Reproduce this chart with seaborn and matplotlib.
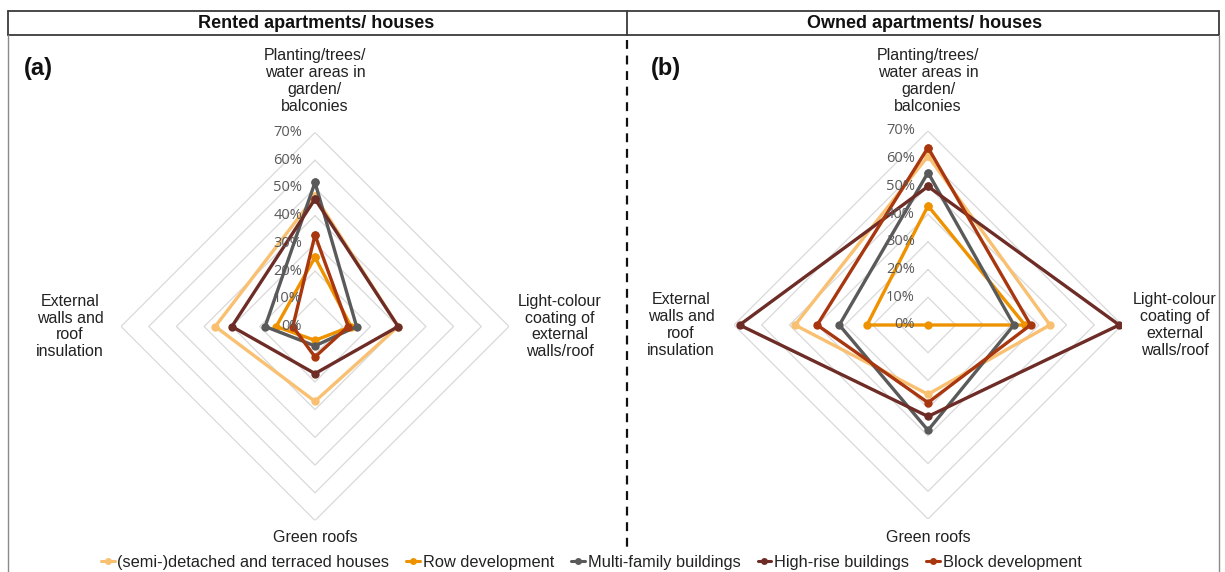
import numpy as np
import pandas as pd
import matplotlib
matplotlib.use("Agg")
import matplotlib.pyplot as plt
from matplotlib.lines import Line2D
import seaborn as sns

sns.set_theme(style="white")
plt.rcParams["font.family"] = ["Liberation Sans", "DejaVu Sans"]

# Axes of the radar (clockwise from the top)
categories = ["Planting/trees/\nwater areas in\ngarden/\nbalconies",
              "Light-colour\ncoating of\nexternal\nwalls/roof",
              "Green roofs",
              "External\nwalls and\nroof\ninsulation"]
series_names = ["(semi-)detached and terraced houses", "Row development",
                "Multi-family buildings", "High-rise buildings", "Block development"]
series_colors = ["#F8C070", "#EE9200", "#5A5A5A", "#6E2C26", "#A8360E"]

# Share of respondents (%) per category: top, right, bottom, left
rented = {
    "(semi-)detached and terraced houses": [47, 30, 27, 36],
    "Row development": [25, 13, 5, 14],
    "Multi-family buildings": [52, 15, 7, 18],
    "High-rise buildings": [46, 30, 17, 30],
    "Block development": [33, 12, 11, 8],
}
owned = {
    "(semi-)detached and terraced houses": [61, 44, 25, 48],
    "Row development": [43, 35, 0, 22],
    "Multi-family buildings": [55, 31, 38, 32],
    "High-rise buildings": [50, 69, 33, 68],
    "Block development": [64, 37, 28, 40],
}
ring_levels = [10, 20, 30, 40, 50, 60, 70]
ring_labels = ["0%", "10%", "20%", "30%", "40%", "50%", "60%", "70%"]
panel_titles = ["Rented apartments/ houses", "Owned apartments/ houses"]
panel_tags = ["(a)", "(b)"]

W, H = 1225, 572
fig = plt.figure(figsize=(W / 100, H / 100), dpi=100)

# angles: top, right, bottom, left, back to top (all distinct for seaborn)
angles = np.deg2rad([90, 0, -90, -180, -270])


def fx(x):
    return x / W


def fy(y):
    return 1 - y / H


def long_frame(d):
    rows = []
    for name in series_names:
        vals = d[name] + [d[name][0]]
        for k, (a, v) in enumerate(zip(angles, vals)):
            rows.append({"theta": a, "value": v, "type": name, "order": k})
    return pd.DataFrame(rows)


R = 194  # pixel radius of the 70% ring
centers = [(315, 326.5), (928, 325)]
lab_dx = [245, 247]

for p, (data, (cx, cy)) in enumerate(zip([rented, owned], centers)):
    ax = fig.add_axes([fx(cx - R), fy(cy + R), 2 * R / W, 2 * R / H], projection="polar")
    ax.set_ylim(0, 70)
    ax.grid(False)
    ax.spines["polar"].set_visible(False)
    ax.set_xticks([])
    ax.set_yticks([])
    ax.patch.set_alpha(0)
    # diamond rings
    for lv in ring_levels:
        ax.plot(angles, [lv] * 5, color="#D9D9D9", lw=0.9, zorder=1)
    df = long_frame(data)
    sns.lineplot(data=df, x="theta", y="value", hue="type", hue_order=series_names,
                 palette=series_colors, sort=False, estimator=None, units="type",
                 marker="o", markersize=6, markeredgewidth=0, lw=2.4,
                 legend=False, ax=ax, zorder=3)
    ax.set_xlabel("")
    ax.set_ylabel("")
    # percentage labels along the top axis
    for i, t in enumerate(ring_labels):
        fig.text(fx(cx - 13), fy(cy - i * R / 7), t, ha="right", va="center",
                 fontsize=10.5, color="#595959", family=["Open Sans", "DejaVu Sans"],
                 zorder=5)
    # category labels
    fig.text(fx(cx), fy(81), categories[0], ha="center", va="center",
             fontsize=11.5, linespacing=1.18, color="#222222")
    fig.text(fx(cx + lab_dx[p]), fy(cy), categories[1], ha="center", va="center",
             fontsize=11.5, linespacing=1.15, color="#222222")
    fig.text(fx(cx), fy(538), categories[2], ha="center", va="center",
             fontsize=11.5, color="#222222")
    fig.text(fx(cx - lab_dx[p]), fy(cy), categories[3], ha="center", va="center",
             fontsize=11.5, linespacing=1.15, color="#222222")

# header frame and separators
frame_kw = dict(color="#3A3A3A", lw=1.3)
fig.add_artist(Line2D([fx(8), fx(1219)], [fy(11), fy(11)], **frame_kw))
fig.add_artist(Line2D([fx(8), fx(1219)], [fy(35), fy(35)], **frame_kw))
fig.add_artist(Line2D([fx(8), fx(8)], [fy(11), fy(35)], **frame_kw))
fig.add_artist(Line2D([fx(1219), fx(1219)], [fy(11), fy(35)], **frame_kw))
fig.add_artist(Line2D([fx(627), fx(627)], [fy(11), fy(35)], **frame_kw))
fig.add_artist(Line2D([fx(8), fx(8)], [fy(35), fy(572)], color="#8A8A8A", lw=1.0))
fig.add_artist(Line2D([fx(1219), fx(1219)], [fy(35), fy(572)], color="#8A8A8A", lw=1.0))
fig.add_artist(Line2D([fx(627), fx(627)], [fy(40), fy(552)], color="#111111",
                      lw=1.6, linestyle=(0, (4, 3))))

fig.text(fx(316), fy(23), panel_titles[0], ha="center", va="center",
         fontsize=13, fontweight="bold", color="#111111")
fig.text(fx(925), fy(23), panel_titles[1], ha="center", va="center",
         fontsize=13, fontweight="bold", color="#111111")
fig.text(fx(24), fy(68), panel_tags[0], ha="left", va="center",
         fontsize=17, fontweight="bold", color="#111111")
fig.text(fx(651), fy(68), panel_tags[1], ha="left", va="center",
         fontsize=17, fontweight="bold", color="#111111")

handles = [Line2D([0], [0], color=c, lw=2.2, marker="o", markersize=5, markeredgewidth=0)
           for c in series_colors]
fig.legend(handles, series_names, loc="center", bbox_to_anchor=(fx(591), fy(562)),
           ncol=5, frameon=False, fontsize=11.8, handlelength=0.85,
           handletextpad=0.15, columnspacing=1.05, borderpad=0, labelcolor="#222222")

fig.savefig("out.png", dpi=100, facecolor="white")
